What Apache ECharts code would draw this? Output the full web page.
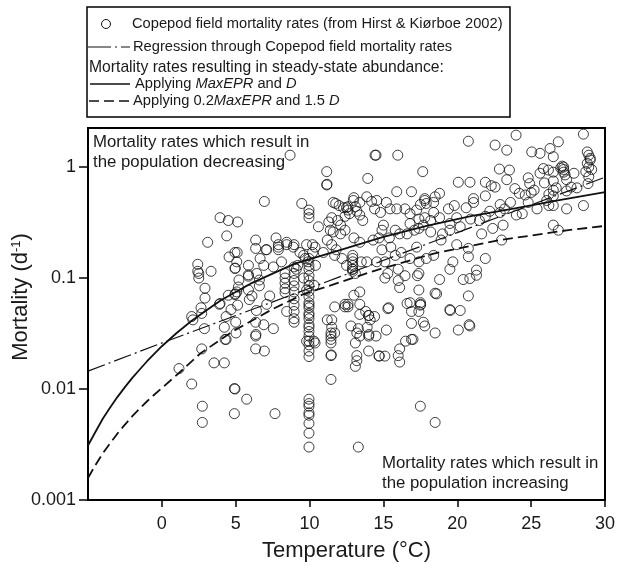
<!DOCTYPE html>
<html>
<head>
<meta charset="utf-8">
<script src="https://cdn.jsdelivr.net/npm/echarts@6/dist/echarts.min.js"></script>
<style>
  html, body { margin: 0; padding: 0; background: #fff; }
  #chart { width: 620px; height: 564px; }
</style>
</head>
<body>
<div id="chart"></div>
<script>
// Copepod field mortality (Hirst & Kiørboe 2002) against temperature,
// with the regression and two steady-state mortality curves.

// Field observations: temperature (°C)
const fieldTemp = [
  1.16, 2.02, 2.74, 2.74, 3.53, 4.23, 4.91, 4.95, 4.91, 5.74, 7.66,
  2.1, 2.7, 2.88, 2.02, 2.7, 2.65, 2.92, 2.92, 3.94, 3.9, 4.5, 4.28, 4.35, 5.02, 4.23,
  5.0, 4.35, 4.68, 5.13, 4.95, 4.97, 5.07, 5.92, 6.1, 5.86, 5.18, 6.6, 5.22, 6.6,
  5.86, 5.86, 6.42, 4.95, 4.97, 5.86, 5.07, 4.95, 5.1, 4.55, 2.43, 2.43, 2.5, 3.33, 2.5,
  3.1, 4.39, 3.94, 4.5, 5.13, 6.94, 6.35, 6.35, 7.05, 7.73, 7.89, 7.89, 7.89, 8.45,
  8.95, 8.45, 8.9, 9.35, 6.9, 7.55, 8.1, 6.65, 7.1,
  6.4, 7.1, 7.3, 6.35, 6.9, 7.55, 6.35, 6.37, 6.35, 6.94,
  8.34, 8.34, 8.34, 8.34, 8.34, 8.45,
  8.95, 8.95, 8.95, 8.95, 8.95, 8.95, 8.95, 8.95, 8.95, 8.95,
  9.96, 9.96, 9.96, 9.96, 9.96, 9.96, 9.96, 9.96, 9.96, 9.96, 9.96, 9.96, 9.96, 9.96,
  9.96, 9.96, 9.96, 9.96, 9.96, 9.96, 9.96, 9.96, 9.96, 9.96, 9.96,
  9.96, 9.96, 9.96, 9.96, 9.96, 9.96, 9.96, 9.96,
  9.47, 8.68, 9.6, 10.3, 9.8, 9.8, 10.3, 10.37, 10.6, 10.37, 9.8, 10.2, 10.93,
  11.16, 11.16, 11.18, 11.77, 9.6, 9.7, 9.9, 10.2, 10.4, 9.2, 9.1,
  11.4, 11.6, 12.1, 12.4, 11.7, 13.0, 13.4, 12.96, 12.6, 13.2, 13.4, 12.7, 12.4,
  14.4, 13.94, 14.43, 11.6, 12.0, 12.3, 12.6, 13.4, 13.1, 12.5, 13.0, 13.87, 14.2,
  14.55, 15.2, 14.8, 15.45, 15.9, 14.5, 15.97,
  11.2, 11.5, 11.8, 12.2, 12.5, 12.9, 13.1, 13.5, 13.87, 14.55, 14.3, 14.7, 14.9,
  15.5, 15.1, 15.8, 15.1, 15.3, 16.0, 16.46, 16.0, 16.1, 15.0, 15.8, 16.1, 16.6,
  17.1, 16.8,
  12.92, 12.92, 12.92, 12.92, 12.92, 12.92, 11.9, 12.1, 11.5, 11.3,
  11.7, 12.4, 12.6, 13.0, 13.4, 13.4, 13.8, 14.0, 11.5, 11.2, 11.5, 11.45, 11.7,
  11.45, 11.45, 11.47, 11.45, 11.45, 11.45, 12.4, 12.6, 12.8, 13.3, 13.2, 13.4,
  13.1, 13.2, 13.2, 13.1, 13.3, 13.4, 14.0, 14.1, 14.4, 13.9, 14.0, 14.5, 14.0,
  14.02, 14.7, 14.72, 15.1, 15.2, 15.3, 15.35,
  16.1, 16.0, 16.1, 16.6, 16.9, 16.5, 16.9, 17.0, 17.5, 17.52, 17.4, 17.7, 17.8,
  17.5, 18.5, 18.5, 17.4, 17.5, 16.8, 16.9, 18.5, 18.6, 19.5, 19.52, 20.2, 20.07,
  20.8, 20.85, 20.75, 21.3,
  17.25, 16.8, 17.9, 18.4, 17.4, 17.4, 17.3, 18.9, 19.96, 19.5, 19.7, 20.4, 18.8,
  20.75, 20.75, 21.3, 21.9, 20.85, 19.5, 20.2, 21.65, 22.4, 23.0, 17.4, 17.7, 18.2,
  16.46, 16.8, 17.25, 17.4, 17.8, 18.2, 18.4, 18.8, 19.5, 19.4, 19.96, 20.6, 20.9,
  22.2, 24.0, 21.9, 22.9, 23.6, 23.2, 21.9, 22.3, 22.9, 21.1, 21.1, 15.9, 16.9,
  17.8, 18.5, 18.8, 17.8, 17.9, 17.5, 18.4, 17.66, 20.07, 20.86, 21.9, 22.56,
  23.35, 22.85, 23.53, 20.75, 22.56, 23.35, 23.98,
  25.04, 25.6, 26.28, 26.84, 26.5, 25.83, 26.17, 26.5, 27.2, 27.2, 27.2, 27.3,
  27.1, 27.0, 24.8, 24.9, 25.2, 26.5, 26.7, 26.5, 26.2, 27.4, 27.7, 27.4, 28.1,
  28.8, 28.9, 29.0, 28.8, 28.9, 28.7, 28.9, 28.85, 28.54, 28.54, 27.4, 26.5, 26.2,
  25.4, 24.8, 26.05, 26.5, 26.84, 29.0, 29.1, 26.5, 25.6, 25.9, 24.6, 23.9, 27.9,
  24.4, 25.0, 19.0, 19.8, 21.5, 23.1, 24.2, 16.2, 15.4, 14.9, 13.6
];

// Field observations: mortality (d⁻¹), paired with fieldTemp
const fieldMort = [
  0.0153, 0.0111, 0.0070, 0.0050, 0.0172, 0.0172, 0.0101, 0.0100, 0.0060, 0.0081, 0.0060,
  0.042, 0.023, 0.035, 0.045, 0.048, 0.054, 0.066, 0.081, 0.059, 0.058, 0.070, 0.028, 0.028, 0.032, 0.036,
  0.040, 0.045, 0.052, 0.057, 0.071, 0.072, 0.075, 0.064, 0.069, 0.078, 0.083, 0.085, 0.096, 0.096,
  0.104, 0.107, 0.110, 0.122, 0.123, 0.130, 0.140, 0.170, 0.170, 0.155, 0.133, 0.115, 0.110, 0.115, 0.100,
  0.210, 0.240, 0.350, 0.330, 0.320, 0.490, 0.220, 0.185, 0.180, 0.230, 0.200, 0.190, 0.180, 0.210,
  0.200, 0.200, 0.190, 0.170, 0.130, 0.126, 0.140, 0.150, 0.180,
  0.051, 0.058, 0.069, 0.040, 0.038, 0.035, 0.030, 0.031, 0.023, 0.022,
  0.110, 0.100, 0.090, 0.080, 0.074, 0.050,
  0.126, 0.110, 0.095, 0.085, 0.075, 0.065, 0.057, 0.050, 0.043, 0.040,
  0.410, 0.380, 0.350, 0.150, 0.130, 0.120, 0.105, 0.095, 0.085, 0.076, 0.068, 0.060, 0.057, 0.054,
  0.048, 0.046, 0.043, 0.038, 0.036, 0.033, 0.030, 0.027, 0.025, 0.022, 0.0196,
  0.0081, 0.0074, 0.0070, 0.0061, 0.0058, 0.0049, 0.0040, 0.0030,
  0.470, 1.28, 0.100, 0.086, 0.078, 0.027, 0.027, 0.026, 0.290, 0.190, 0.200, 0.200, 0.170,
  0.910, 0.690, 0.700, 0.470, 0.160, 0.150, 0.140, 0.170, 0.130, 0.130, 0.120,
  0.270, 0.260, 0.250, 0.270, 0.160, 0.230, 0.210, 0.500, 0.440, 0.400, 0.370, 0.380, 0.360,
  0.420, 0.790, 1.28, 0.480, 0.450, 0.430, 0.410, 0.480, 0.440, 0.430, 0.530, 0.540, 0.490,
  0.500, 0.480, 0.390, 0.420, 0.420, 1.28, 1.28,
  0.220, 0.200, 0.180, 0.150, 0.130, 0.120, 0.110, 0.140, 0.140, 0.140, 0.220, 0.230, 0.180,
  0.190, 0.140, 0.160, 0.100, 0.110, 0.120, 0.105, 0.095, 0.082, 0.300, 0.270, 0.250, 0.250,
  0.270, 0.310,
  0.160, 0.150, 0.140, 0.130, 0.120, 0.115, 0.330, 0.300, 0.350, 0.320,
  0.055, 0.055, 0.055, 0.070, 0.075, 0.058, 0.050, 0.046, 0.042, 0.042, 0.036, 0.032, 0.032,
  0.028, 0.020, 0.0203, 0.0122, 0.026, 0.030, 0.058, 0.058, 0.037, 0.035, 0.032, 0.030,
  0.026, 0.020, 0.018, 0.016, 0.0030, 0.047, 0.046, 0.042, 0.045, 0.036, 0.030, 0.030, 0.022,
  0.031, 0.0198, 0.0199, 0.0198, 0.034, 0.053, 0.054,
  0.023, 0.020, 0.0175, 0.059, 0.039, 0.027, 0.028, 0.028, 0.057, 0.058, 0.050, 0.040, 0.037,
  0.0070, 0.032, 0.0050, 0.078, 0.060, 0.060, 0.050, 0.073, 0.072, 0.052, 0.051, 0.051, 0.034,
  0.038, 0.037, 0.069, 0.106,
  0.190, 0.150, 0.150, 0.160, 0.140, 0.110, 0.105, 0.220, 0.200, 0.120, 0.140, 0.097, 0.097,
  0.185, 0.156, 0.118, 0.150, 0.099, 0.270, 0.290, 0.250, 0.280, 0.220, 0.280, 0.300, 0.260,
  0.420, 0.380, 0.410, 0.340, 0.350, 0.330, 0.390, 0.350, 0.310, 0.420, 0.350, 0.430, 0.340,
  0.400, 0.370, 0.360, 0.390, 0.480, 0.420, 0.550, 0.680, 0.460, 0.520, 0.480, 0.600, 0.600,
  0.520, 0.540, 0.580, 0.500, 0.470, 0.460, 0.480, 0.910, 0.730, 0.730, 0.730, 0.660,
  0.770, 0.960, 0.940, 1.71, 1.58, 1.42, 1.94,
  1.37, 1.33, 1.47, 1.69, 1.24, 0.970, 0.940, 0.900, 1.00, 0.950, 0.900, 0.850,
  1.02, 0.980, 0.800, 0.710, 0.620, 0.750, 0.650, 0.620, 0.570, 0.770, 0.660, 0.610, 0.650,
  1.37, 1.28, 1.16, 1.08, 1.00, 0.910, 0.820, 0.710, 1.98, 0.450, 0.420, 0.450, 0.450,
  0.420, 0.480, 0.500, 0.300, 0.270, 1.20, 0.950, 0.550, 0.880, 0.720, 0.560, 0.640, 0.880,
  0.380, 0.590, 0.250, 0.450, 0.330, 0.300, 0.580, 0.170, 0.230, 0.270, 0.330
];

// Regression through the field mortality rates
const regTemp = [-5, 0, 10, 20, 30];
const regMort = [0.0145, 0.026, 0.081, 0.257, 0.81];

// Steady-state mortality, MaxEPR and D
const curveTemp = [-5, -4.5, -4, -3.5, -3, -2.5, -2, -1.5, -1, -0.5, 0, 1, 2, 3, 4, 6, 9, 12, 15, 18, 21, 24, 27, 30];
const curveMort = [0.0031, 0.0041, 0.0054, 0.0068, 0.0085, 0.0104, 0.0126, 0.0150, 0.0178, 0.0208,
                   0.0243, 0.032, 0.041, 0.051, 0.063, 0.089, 0.135, 0.178, 0.235, 0.297,
                   0.363, 0.427, 0.507, 0.596];

// Steady-state mortality, 0.2 MaxEPR and 1.5 D
const lowTemp = [-5, -4.5, -4, -3.5, -3, -2.5, -2, -1.5, -1, -0.5, 0, 1.2, 2.6, 4.8, 7.5, 9.5, 12, 14.5, 18.4, 22.9, 27.4, 30];
const lowMort = [0.00158, 0.00206, 0.00263, 0.00325, 0.00398, 0.00478, 0.00569, 0.00668, 0.00776,
                 0.00893, 0.0102, 0.0141, 0.0209, 0.0331, 0.0525, 0.0708, 0.0912, 0.1175,
                 0.166, 0.220, 0.269, 0.295];

// Tick positions
const xTicks = [0, 5, 10, 15, 20, 25, 30];
const yTicks = [0.001, 0.01, 0.1, 1];

const pairs = (xs, ys) => xs.map((x, i) => [x, ys[i]]);

const FONT = '"Liberation Sans", Arial, Helvetica, sans-serif';
const INK = '#1a1a1a';
const LEG = '14.7px ' + FONT;
const italic = { i: { fontFamily: FONT, fontSize: 14.7, fontStyle: 'italic', fill: INK } };

const chart = echarts.init(document.getElementById('chart'), null, { renderer: 'canvas' });

chart.setOption({
  backgroundColor: '#fff',
  animation: false,
  grid: {
    left: 88, right: 15, top: 128, bottom: 64,
    outerBoundsMode: 'none', containLabel: false,
    show: true, borderColor: '#000', borderWidth: 2, backgroundColor: 'transparent'
  },
  xAxis: {
    type: 'value', min: -5, max: 30, interval: 5,
    name: 'Temperature (°C)', nameLocation: 'middle', nameGap: 40, nameMoveOverlap: false,
    nameTextStyle: { fontFamily: FONT, fontSize: 22, color: INK },
    axisLine: { show: true, onZero: false, lineStyle: { color: '#000', width: 2 } },
    axisTick: { show: true, length: 7, lineStyle: { color: '#000', width: 1.5 }, customValues: xTicks },
    axisLabel: { fontFamily: FONT, fontSize: 18, color: INK, margin: 15, customValues: xTicks },
    splitLine: { show: false }
  },
  yAxis: {
    type: 'log', logBase: 10, min: 0.001, max: 2.25,
    axisLine: { show: true, onZero: false, lineStyle: { color: '#000', width: 2 } },
    axisTick: { show: true, length: 9, lineStyle: { color: '#000', width: 1.5 }, customValues: yTicks },
    axisLabel: {
      fontFamily: FONT, fontSize: 18, color: INK, margin: 12, customValues: yTicks,
      formatter: v => String(+v.toPrecision(3))
    },
    splitLine: { show: false }
  },
  series: [
    {
      name: 'field', type: 'scatter', data: pairs(fieldTemp, fieldMort),
      symbol: 'circle', symbolSize: 10,
      itemStyle: { color: 'rgba(0,0,0,0)', borderColor: '#111', borderWidth: 1 },
      z: 2
    },
    {
      name: 'regression', type: 'line', data: pairs(regTemp, regMort),
      showSymbol: false, symbol: 'none',
      lineStyle: { color: '#111', width: 1.2, type: [18, 4, 2, 4] }, z: 3
    },
    {
      name: 'MaxEPR', type: 'line', data: pairs(curveTemp, curveMort),
      showSymbol: false, symbol: 'none', smooth: false,
      lineStyle: { color: '#111', width: 1.8, join: 'round' }, z: 3
    },
    {
      name: 'lowEPR', type: 'line', data: pairs(lowTemp, lowMort),
      showSymbol: false, symbol: 'none', smooth: false,
      lineStyle: { color: '#111', width: 1.8, type: [10, 5], join: 'round' }, z: 3
    }
  ],
  graphic: [
    // y-axis title, read bottom to top
    { type: 'text', x: 21, y: 297, rotation: Math.PI / 2, z: 11,
      style: {
        text: 'Mortality (d{sup|-1})', font: '22px ' + FONT, fill: INK,
        align: 'center', verticalAlign: 'middle',
        rich: { sup: { fontFamily: FONT, fontSize: 13, fill: INK, verticalAlign: 'top', padding: [0, 0, 9, 0] } }
      } },
    // legend box
    { type: 'rect', shape: { x: 87, y: 7, width: 423, height: 110 },
      style: { fill: '#fff', stroke: '#000', lineWidth: 1.5 }, z: 10 },
    { type: 'circle', shape: { cx: 106, cy: 24, r: 4.5 },
      style: { fill: 'none', stroke: '#111', lineWidth: 1 }, z: 11 },
    { type: 'text', x: 132, y: 24, z: 11,
      style: { text: 'Copepod field mortality rates (from Hirst & Kiørboe 2002)', font: LEG, fill: INK, verticalAlign: 'middle' } },
    { type: 'line', shape: { x1: 88, y1: 47, x2: 130, y2: 47 }, z: 11,
      style: { stroke: '#111', lineWidth: 1.2, lineDash: [23, 4, 2, 4] } },
    { type: 'text', x: 133, y: 47, z: 11,
      style: { text: 'Regression through Copepod field mortality rates', font: LEG, fill: INK, verticalAlign: 'middle' } },
    { type: 'text', x: 89, y: 68, z: 11,
      style: { text: 'Mortality rates resulting in steady-state abundance:', font: '15.7px ' + FONT, fill: INK, verticalAlign: 'middle' } },
    { type: 'line', shape: { x1: 90, y1: 84, x2: 130, y2: 84 }, z: 11,
      style: { stroke: '#111', lineWidth: 1.5 } },
    { type: 'text', x: 135, y: 84, z: 11,
      style: { text: 'Applying {i|MaxEPR} and {i|D}', font: LEG, fill: INK, verticalAlign: 'middle', rich: italic } },
    { type: 'line', shape: { x1: 89, y1: 101, x2: 130, y2: 101 }, z: 11,
      style: { stroke: '#111', lineWidth: 1.5, lineDash: [10, 5] } },
    { type: 'text', x: 133, y: 101, z: 11,
      style: { text: 'Applying 0.2{i|MaxEPR} and 1.5 {i|D}', font: LEG, fill: INK, verticalAlign: 'middle', rich: italic } },
    // region annotations inside the plot
    { type: 'text', x: 93, y: 133, z: 11,
      style: { text: 'Mortality rates which result in\nthe population decreasing', font: '16.8px ' + FONT, fill: INK, lineHeight: 19.5 } },
    { type: 'text', x: 382, y: 453, z: 11,
      style: { text: 'Mortality rates which result in\nthe population increasing', font: '16.8px ' + FONT, fill: INK, lineHeight: 20 } }
  ]
});
</script>
</body>
</html>
